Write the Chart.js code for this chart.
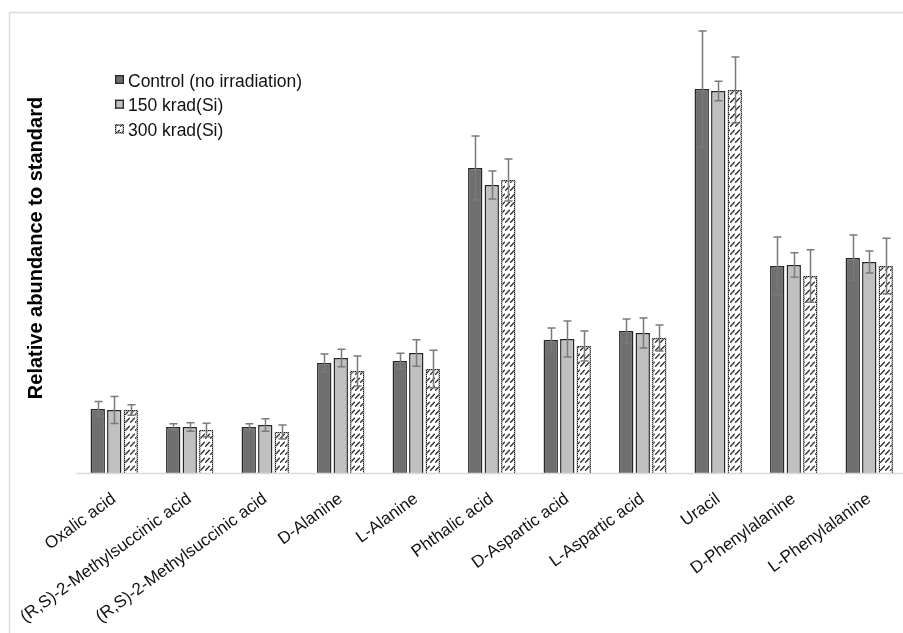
<!DOCTYPE html>
<html>
<head>
<meta charset="utf-8">
<title>Relative abundance to standard</title>
<script src="https://cdn.jsdelivr.net/npm/chart.js@4.4.1/dist/chart.umd.min.js"></script>
<style>
  html, body { margin: 0; padding: 0; background: #ffffff; overflow: hidden; }
  #wrap { position: relative; width: 903px; height: 633px; overflow: hidden; }
  canvas { display: block; }
</style>
</head>
<body>
<div id="wrap"><canvas id="chart" width="920" height="633"></canvas></div>
<script>
// Compounds measured
const categories = [
  'Oxalic acid',
  '(R,S)-2-Methylsuccinic acid',
  '(R,S)-2-Methylsuccinic acid',
  'D-Alanine',
  'L-Alanine',
  'Phthalic acid',
  'D-Aspartic acid',
  'L-Aspartic acid',
  'Uracil',
  'D-Phenylalanine',
  'L-Phenylalanine'
];

const seriesLabels = ['Control (no irradiation)', '150 krad(Si)', '300 krad(Si)'];

// Mean relative abundance for each dose
const controlValues = [0.64, 0.46, 0.46, 1.10, 1.12, 3.05, 1.33, 1.42, 3.84, 2.07, 2.15];
const dose150Values = [0.63, 0.46, 0.48, 1.15, 1.20, 2.88, 1.34, 1.40, 3.82, 2.08, 2.11];
const dose300Values = [0.63, 0.43, 0.41, 1.02, 1.04, 2.93, 1.27, 1.35, 3.83, 1.97, 2.07];

// Standard deviations (symmetric error bars)
const controlErrors = [0.075, 0.033, 0.033, 0.09, 0.077, 0.32, 0.12, 0.12, 0.58, 0.29, 0.23];
const dose150Errors = [0.135, 0.043, 0.063, 0.087, 0.133, 0.14, 0.18, 0.15, 0.097, 0.123, 0.11];
const dose300Errors = [0.053, 0.067, 0.07, 0.15, 0.187, 0.21, 0.15, 0.13, 0.33, 0.263, 0.277];

const yMax = 4.5;

// Hatch tile: short upward diagonal dashes on white
function makeHatch() {
  const c = document.createElement('canvas');
  c.width = 5; c.height = 8;
  const g = c.getContext('2d');
  g.fillStyle = '#ffffff';
  g.fillRect(0, 0, 5, 8);
  g.strokeStyle = '#2e2e2e';
  g.lineWidth = 1.3;
  g.lineCap = 'round';
  g.beginPath();
  g.moveTo(0.6, 6.2);
  g.lineTo(4.4, 2.2);
  g.stroke();
  return g.createPattern(c, 'repeat');
}

// Dotted outline for the hatched bars
function makeDots() {
  const c = document.createElement('canvas');
  c.width = 2; c.height = 2;
  const g = c.getContext('2d');
  g.fillStyle = '#9a9a9a';
  g.fillRect(0, 0, 2, 2);
  g.fillStyle = '#1e1e1e';
  g.fillRect(0, 0, 1, 1);
  g.fillRect(1, 1, 1, 1);
  return g.createPattern(c, 'repeat');
}

const hatch = makeHatch();
const dots = makeDots();

const errorSets = [controlErrors, dose150Errors, dose300Errors];

// Frame around the figure and the category baseline
const framePlugin = {
  id: 'frame',
  beforeDraw(chart) {
    const ctx = chart.ctx;
    ctx.save();
    ctx.strokeStyle = '#dcdcdc';
    ctx.lineWidth = 1.5;
    ctx.beginPath();
    ctx.moveTo(9.5, 640);
    ctx.lineTo(9.5, 12.5);
    ctx.lineTo(930, 12.5);
    ctx.stroke();
    ctx.restore();
  },
  afterDatasetsDraw(chart) {
    const ctx = chart.ctx;
    const a = chart.chartArea;
    ctx.save();
    ctx.strokeStyle = '#d9d9d9';
    ctx.lineWidth = 1.5;
    ctx.beginPath();
    ctx.moveTo(a.left, a.bottom + 0.5);
    ctx.lineTo(a.right, a.bottom + 0.5);
    ctx.stroke();
    ctx.restore();
  }
};

// Error bars with caps, positioned from each bar element and the y scale
const errorBarPlugin = {
  id: 'errorBars',
  afterDatasetsDraw(chart) {
    const ctx = chart.ctx;
    const y = chart.scales.y;
    ctx.save();
    ctx.strokeStyle = '#7a7a7a';
    ctx.lineWidth = 1.5;
    chart.data.datasets.forEach((ds, di) => {
      const meta = chart.getDatasetMeta(di);
      const errs = errorSets[di];
      meta.data.forEach((bar, i) => {
        const v = ds.data[i];
        const e = errs[i];
        const x = Math.round(bar.x) + 0.5;
        const top = y.getPixelForValue(v + e);
        const bot = y.getPixelForValue(v - e);
        ctx.beginPath();
        ctx.moveTo(x, top);
        ctx.lineTo(x, bot);
        ctx.moveTo(x - 4, top);
        ctx.lineTo(x + 4, top);
        ctx.moveTo(x - 4, bot);
        ctx.lineTo(x + 4, bot);
        ctx.stroke();
      });
    });
    ctx.restore();
  }
};

// Legend in the upper-left of the plot
const legendPlugin = {
  id: 'insetLegend',
  afterDraw(chart) {
    const ctx = chart.ctx;
    const x0 = 115, y0 = 75, step = 24.7, box = 9;
    ctx.save();
    ctx.font = '17.5px "Liberation Sans", Arial, sans-serif';
    ctx.textBaseline = 'alphabetic';
    ctx.textAlign = 'left';
    chart.data.datasets.forEach((ds, i) => {
      const by = y0 + i * step;
      ctx.fillStyle = ds.backgroundColor;
      ctx.fillRect(x0, by, box, box);
      ctx.fillStyle = ds.borderColor;
      ctx.fillRect(x0, by, box, 1.3);
      ctx.fillRect(x0, by + box - 1.3, box, 1.3);
      ctx.fillRect(x0, by, 1.3, box);
      ctx.fillRect(x0 + box - 1.3, by, 1.3, box);
      ctx.fillStyle = '#111111';
      ctx.fillText(ds.label, x0 + 13, by + 11.5);
    });
    ctx.restore();
  }
};

const ctx = document.getElementById('chart').getContext('2d');
new Chart(ctx, {
  type: 'bar',
  data: {
    labels: categories,
    datasets: [
      { label: seriesLabels[0], data: controlValues, backgroundColor: '#6f6f6f', borderColor: '#262626', borderWidth: 1.5 },
      { label: seriesLabels[1], data: dose150Values, backgroundColor: '#c0c0c0', borderColor: '#262626', borderWidth: 1.5 },
      { label: seriesLabels[2], data: dose300Values, backgroundColor: hatch, borderColor: dots, borderWidth: 1.5 }
    ]
  },
  options: {
    responsive: false,
    animation: false,
    devicePixelRatio: 1,
    layout: { padding: { top: 23, left: 0, right: 13, bottom: 0 } },
    datasets: { bar: { barPercentage: 0.87, categoryPercentage: 0.656 } },
    plugins: {
      legend: { display: false },
      tooltip: { enabled: false }
    },
    scales: {
      x: {
        grid: { display: false, drawTicks: false },
        border: { display: false },
        ticks: {
          autoSkip: false,
          minRotation: 36,
          maxRotation: 36,
          padding: 16,
          color: '#111111',
          font: { family: '"Liberation Sans", Arial, sans-serif', size: 17 }
        },
        afterFit(scale) { scale.height = 160; }
      },
      y: {
        min: 0,
        max: yMax,
        grid: { display: false, drawTicks: false },
        border: { display: false },
        ticks: { display: false },
        title: {
          display: true,
          text: 'Relative abundance to standard',
          color: '#000000',
          padding: { top: 24, bottom: 0 },
          font: { family: '"Liberation Sans", Arial, sans-serif', size: 20, weight: 'bold' }
        },
        afterFit(scale) { scale.width = 76.5; }
      }
    }
  },
  plugins: [framePlugin, errorBarPlugin, legendPlugin]
});
</script>
</body>
</html>
